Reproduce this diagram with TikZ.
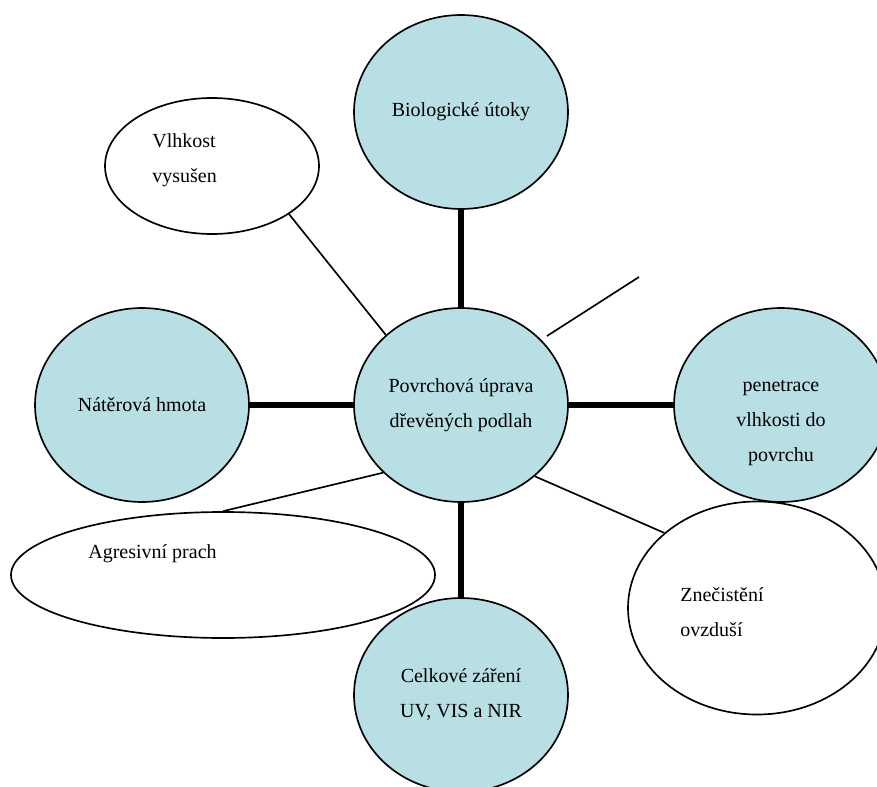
\documentclass[tikz,border=0pt]{standalone}
\usepackage{fontspec}
\setmainfont{Liberation Serif}
\usepackage{xcolor}
\usepackage{tikz}
\usetikzlibrary{shapes.geometric}
\definecolor{bubblecyan}{RGB}{184,223,227}

\begin{document}
\begin{tikzpicture}[
  x=0.6pt, y=-0.6pt,
  font=\fontsize{12}{21}\selectfont,
  bubble/.style={
    ellipse,
    draw=black,
    line width=1pt,
    fill=bubblecyan,
    inner sep=0pt,
    align=center,
    minimum width=128.4pt,
    minimum height=116.4pt
  },
  oval/.style={
    ellipse,
    draw=black,
    line width=1pt,
    fill=white,
    inner sep=0pt
  },
  txt/.style={inner sep=0pt, align=left, anchor=west},
  strong/.style={line width=3.8pt},
  link/.style={line width=1pt}
]

\clip (0,0) rectangle (877,787);
\fill[white] (0,0) rectangle (877,787);

\node[bubble] (core) at (461,405) {Povrchová úprava\\dřevěných podlah};
\node[bubble] (bio) at (461,112) {Biologické útoky};
\node[bubble] (coat) at (142,405) {Nátěrová hmota};
\node[bubble] (pen) at (781,405) {};
\node[align=center, inner sep=0pt] (penText) at (781,423) {penetrace\\vlhkosti do\\povrchu};
\node[bubble] (rad) at (461,695) {Celkové záření\\UV, VIS a NIR};

\node[oval, minimum width=128.4pt, minimum height=81.6pt] (moist) at (212,166) {};
\node[txt] (moistText) at (152,160) {Vlhkost\\vysušen};
\node[oval, minimum width=254.4pt, minimum height=75.6pt] (dust) at (223,575) {};
\node[txt, anchor=base west] (dustText) at (88,558) {Agresivní prach};
\node[oval, minimum width=154.8pt, minimum height=127.8pt] (air) at (757,608) {};
\node[txt] (airText) at (680,612) {Znečistění\\ovzduší};

\coordinate (strayA) at (547,336);
\coordinate (strayB) at (639,277);

\draw[strong] (bio.south) -- (core.north);
\draw[strong] (coat.east) -- (core.west);
\draw[strong] (core.east) -- (pen.west);
\draw[strong] (core.south) -- (rad.north);

\draw[link] (moist.-32) -- (core.137);
\draw[link] (dust.north) -- (core.221);
\draw[link] (air.141) -- (core.-44);
\draw[link] (strayA) -- (strayB);

\end{tikzpicture}
\end{document}
